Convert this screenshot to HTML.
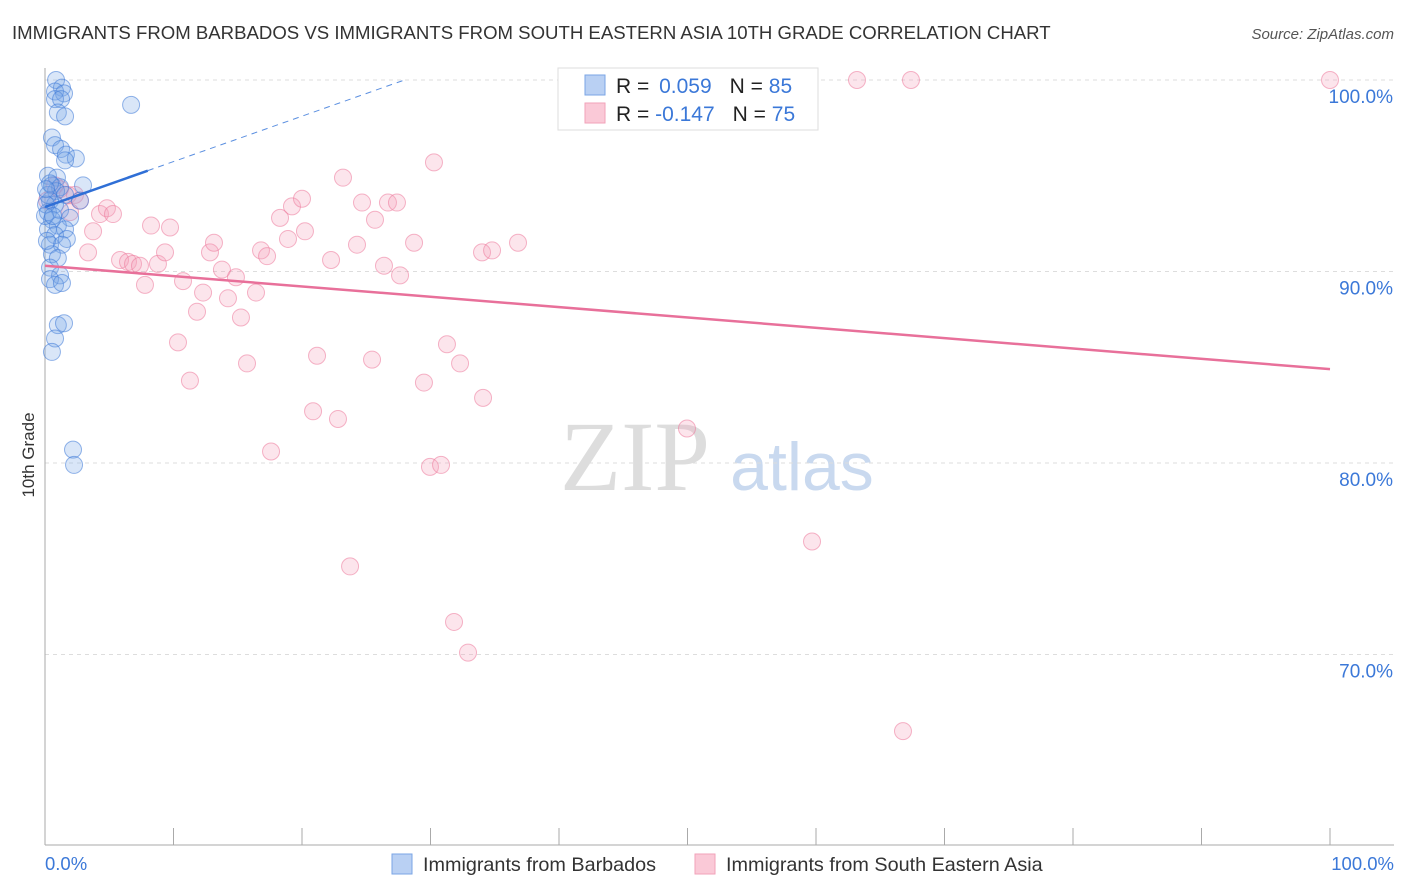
<!DOCTYPE html>
<html><head><meta charset="utf-8">
<style>
body{margin:0;background:#fff;font-family:"Liberation Sans",sans-serif;}
#wrap{position:relative;width:1406px;height:892px;overflow:hidden;}
</style></head>
<body><div id="wrap">
<svg id="svg" width="1406" height="892" xmlns="http://www.w3.org/2000/svg">
<text x="12" y="39" font-size="18.6" fill="#333">IMMIGRANTS FROM BARBADOS VS IMMIGRANTS FROM SOUTH EASTERN ASIA 10TH GRADE CORRELATION CHART</text>
<text x="1394" y="39" font-size="15" fill="#555" font-style="italic" text-anchor="end">Source: ZipAtlas.com</text>
<text x="635" y="490" font-size="100" fill="#ddd" font-family="Liberation Serif,serif" text-anchor="middle">ZIP</text>
<text x="802" y="490" font-size="68" fill="#c9d9ef" text-anchor="middle">atlas</text>
<text transform="translate(34,455) rotate(-90)" font-size="17" fill="#333" text-anchor="middle">10th Grade</text>
<g id="grid"></g><g id="pts"></g><g id="lines"></g>
<g>
<rect x="558" y="68" width="260" height="62" fill="#fff" stroke="#ddd"/>
<rect x="585" y="75" width="20" height="20" fill="#b9d0f3" stroke="#7aa5e6"/>
<rect x="585" y="103" width="20" height="20" fill="#fac9d7" stroke="#f2a2b9"/>
<text x="616" y="93" font-size="21" fill="#222">R = <tspan fill="#3b78d8" dx="4">0.059</tspan><tspan dx="18">N = </tspan><tspan fill="#3b78d8">85</tspan></text>
<text x="616" y="121" font-size="21" fill="#222">R = <tspan fill="#3b78d8">-0.147</tspan><tspan dx="18">N = </tspan><tspan fill="#3b78d8">75</tspan></text>
</g>
<g>
<rect x="392" y="854" width="20" height="20" fill="#b9d0f3" stroke="#7aa5e6"/>
<text x="423" y="871" font-size="19.8" fill="#333">Immigrants from Barbados</text>
<rect x="695" y="854" width="20" height="20" fill="#fac9d7" stroke="#f2a2b9"/>
<text x="726" y="871" font-size="19.8" fill="#333">Immigrants from South Eastern Asia</text>
</g>
<text x="45" y="870" font-size="18.5" fill="#3b78d8">0.0%</text>
<text x="1394" y="870" font-size="18.5" fill="#3b78d8" text-anchor="end">100.0%</text>
</svg></div>
<script>
const yTicks=[100,90,80,70];
const yTickLabels=["100.0%","90.0%","80.0%","70.0%"];
const blueX=[0.86,1.32,0.78,1.48,0.78,1.25,1.0,1.56,6.7,0.54,0.78,1.25,1.63,2.4,1.56,0.23,0.93,0.54,1.17,2.96,0.86,1.56,2.72,0.39,0.78,0.23,1.17,1.95,0.54,1.0,0.23,1.56,0.78,1.7,0.39,1.32,0.54,1.0,0.39,1.17,0.39,0.78,1.32,1.0,1.48,0.78,0.54,2.18,2.26,0.23,0.39,0.08,0.15,0,0.62,0.08];
const blueY=[100,99.6,99.4,99.3,99.0,99.0,98.3,98.1,98.7,97.0,96.6,96.4,96.1,95.9,95.8,95.0,94.9,94.5,94.4,94.5,94.2,94.0,93.7,93.7,93.5,93.1,93.2,92.8,92.7,92.4,92.2,92.2,91.9,91.7,91.4,91.4,90.9,90.7,90.2,89.8,89.6,89.3,89.4,87.2,87.3,86.5,85.8,80.7,79.9,94.0,94.6,93.5,91.6,92.9,92.9,94.3];
const pinkX=[0.16,0.78,1.17,1.79,2.33,2.72,1.95,4.28,4.82,5.29,3.74,3.35,5.84,6.46,6.85,7.39,8.79,7.78,8.25,9.73,9.34,10.74,10.35,11.28,11.83,12.3,12.84,13.15,13.77,14.24,14.86,15.25,15.72,16.42,16.81,17.28,17.59,18.29,18.91,19.22,20.0,20.23,20.86,21.17,22.26,22.8,23.19,23.74,24.28,24.67,25.45,25.68,26.38,26.69,27.39,27.63,28.72,29.49,29.96,30.27,30.82,31.28,31.83,32.3,32.92,34.09,34.01,34.79,36.81,49.96,59.69,63.19,67.39,66.77,100];
const pinkY=[93.7,94.5,94.3,94.0,94.0,93.7,93.1,93.0,93.3,93.0,92.1,91.0,90.6,90.5,90.4,90.3,90.4,89.3,92.4,92.3,91.0,89.5,86.3,84.3,87.9,88.9,91.0,91.5,90.1,88.6,89.7,87.6,85.2,88.9,91.1,90.8,80.6,92.8,91.7,93.4,93.8,92.1,82.7,85.6,90.6,82.3,94.9,74.6,91.4,93.6,85.4,92.7,90.3,93.6,93.6,89.8,91.5,84.2,79.8,95.7,79.9,86.2,71.7,85.2,70.1,83.4,91.0,91.1,91.5,81.8,75.9,100,100,66.0,100];
const blueTrend=[93.37,0.237];
const pinkTrend=[90.3,-0.054];
const X=v=>45+v*12.85, Y=v=>80+(100-v)*19.15;
const NS="http://www.w3.org/2000/svg";
function mk(tag,attrs,parent){const e=document.createElementNS(NS,tag);for(const k in attrs)e.setAttribute(k,attrs[k]);parent.appendChild(e);return e;}
const grid=document.getElementById('grid'),pts=document.getElementById('pts'),lines=document.getElementById('lines');
yTicks.forEach((t,i)=>{
 const l=mk('line',{x1:45,x2:1394,y1:Y(t),y2:Y(t),stroke:'#ddd','stroke-dasharray':'4,4'},grid);
 
 
 const tx=mk('text',{x:1393,y:Y(t)+23,'font-size':19,fill:'#3b78d8','text-anchor':'end'},grid);
 tx.textContent=yTickLabels[i];
 
 
});
const ax=mk('line',{x1:45,x2:45,y1:68,y2:845,stroke:'#aaa'},grid);


const bx=mk('line',{x1:45,x2:1394,y1:845,y2:845,stroke:'#aaa'},grid);


for(let i=0;i<=10;i++){
 const t=mk('line',{x1:X(i*10),x2:X(i*10),y1:828,y2:845,stroke:'#aaa'},grid);
 
 
}
pinkX.forEach((v,i)=>{
 const c=mk('circle',{cx:X(v),cy:Y(pinkY[i]),r:8.5,fill:'rgba(245,160,185,0.28)',stroke:'rgba(236,120,155,0.55)','stroke-width':1},pts);
 
 
});
blueX.forEach((v,i)=>{
 const c=mk('circle',{cx:X(v),cy:Y(blueY[i]),r:8.5,fill:'rgba(120,165,230,0.28)',stroke:'rgba(60,120,215,0.55)','stroke-width':1},pts);
 
 
});
const pl=mk('line',{x1:X(0),y1:Y(pinkTrend[0]),x2:X(100),y2:Y(pinkTrend[0]+pinkTrend[1]*100),stroke:'#e8709a','stroke-width':2.5},lines);


const bs=mk('line',{x1:X(0),y1:Y(blueTrend[0]),x2:X(8),y2:Y(blueTrend[0]+blueTrend[1]*8),stroke:'#2f6fd6','stroke-width':2.5},lines);


const xe=(100-blueTrend[0])/blueTrend[1];
const bd=mk('line',{x1:X(8),y1:Y(blueTrend[0]+blueTrend[1]*8),x2:X(xe),y2:Y(100),stroke:'#5b8fe0','stroke-width':1,'stroke-dasharray':'6,5'},lines);


</script>
</body></html>
